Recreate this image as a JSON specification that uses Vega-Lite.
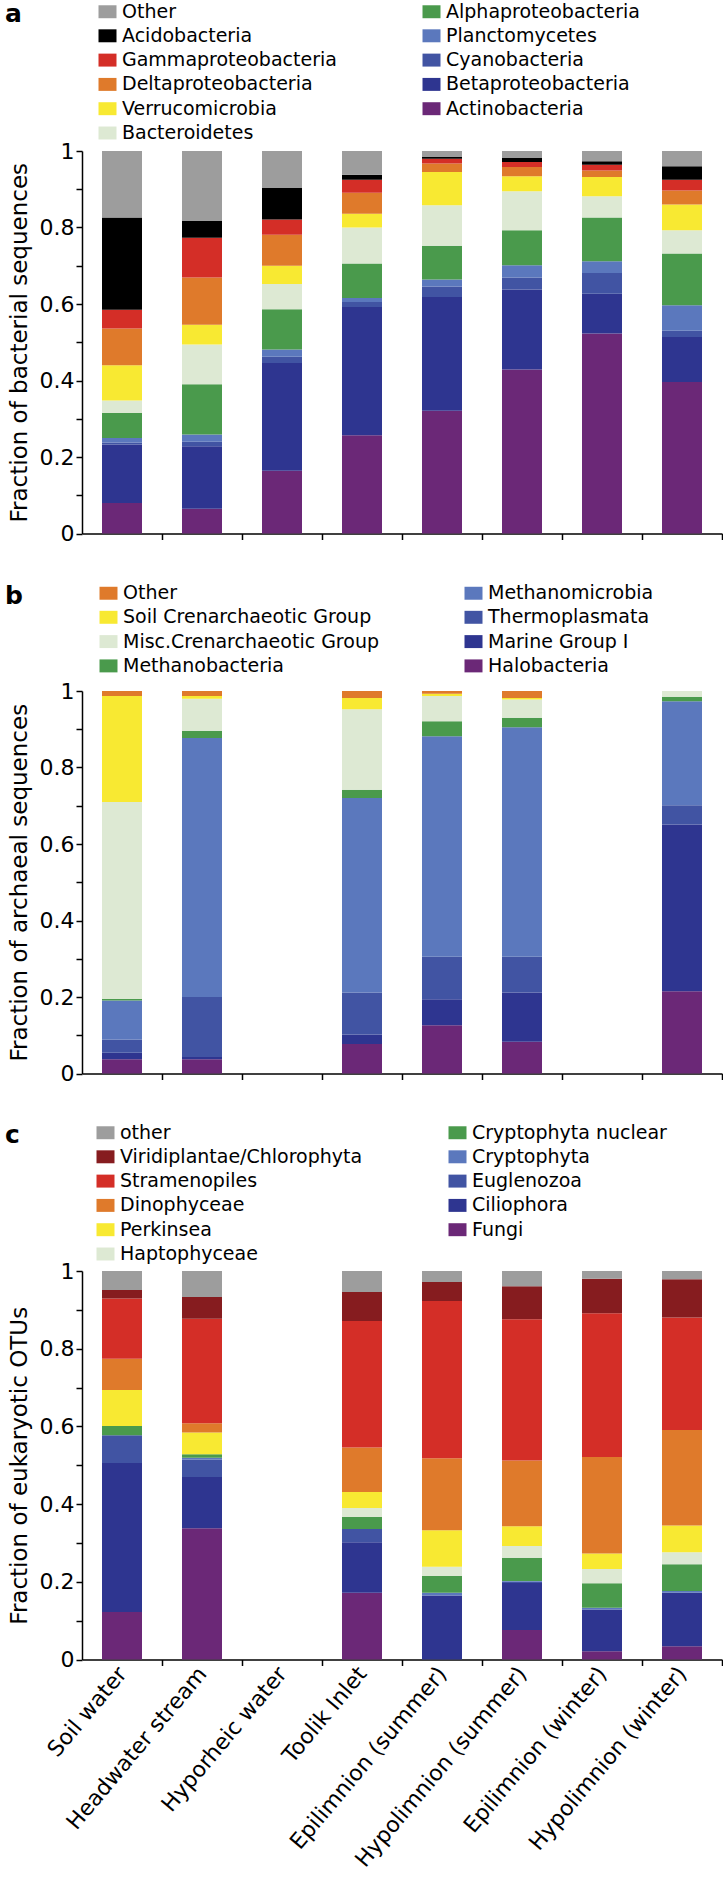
{
  "$schema": "https://vega.github.io/schema/vega-lite/v6.json",
  "padding": {"left": 5, "top": 2, "right": 0, "bottom": 0},
  "background": "white",
  "datasets": {
    "rankA": [
      {"taxon": "Actinobacteria", "rank": 0}, {"taxon": "Betaproteobacteria", "rank": 1}, {"taxon": "Cyanobacteria", "rank": 2},
      {"taxon": "Planctomycetes", "rank": 3}, {"taxon": "Alphaproteobacteria", "rank": 4}, {"taxon": "Bacteroidetes", "rank": 5},
      {"taxon": "Verrucomicrobia", "rank": 6}, {"taxon": "Deltaproteobacteria", "rank": 7}, {"taxon": "Gammaproteobacteria", "rank": 8},
      {"taxon": "Acidobacteria", "rank": 9}, {"taxon": "Other", "rank": 10}
    ],
    "rankB": [
      {"taxon": "Halobacteria", "rank": 0}, {"taxon": "Marine Group I", "rank": 1}, {"taxon": "Thermoplasmata", "rank": 2},
      {"taxon": "Methanomicrobia", "rank": 3}, {"taxon": "Methanobacteria", "rank": 4}, {"taxon": "Misc.Crenarchaeotic Group", "rank": 5},
      {"taxon": "Soil Crenarchaeotic Group", "rank": 6}, {"taxon": "Other", "rank": 7}
    ],
    "rankC": [
      {"taxon": "Fungi", "rank": 0}, {"taxon": "Ciliophora", "rank": 1}, {"taxon": "Euglenozoa", "rank": 2},
      {"taxon": "Cryptophyta", "rank": 3}, {"taxon": "Cryptophyta nuclear", "rank": 4}, {"taxon": "Haptophyceae", "rank": 5},
      {"taxon": "Perkinsea", "rank": 6}, {"taxon": "Dinophyceae", "rank": 7}, {"taxon": "Stramenopiles", "rank": 8},
      {"taxon": "Viridiplantae/Chlorophyta", "rank": 9}, {"taxon": "other", "rank": 10}
    ],
    "bact": [
      {"site": "Soil water", "taxon": "Actinobacteria", "fraction": 0.080},
      {"site": "Soil water", "taxon": "Betaproteobacteria", "fraction": 0.153},
      {"site": "Soil water", "taxon": "Cyanobacteria", "fraction": 0.005},
      {"site": "Soil water", "taxon": "Planctomycetes", "fraction": 0.012},
      {"site": "Soil water", "taxon": "Alphaproteobacteria", "fraction": 0.065},
      {"site": "Soil water", "taxon": "Bacteroidetes", "fraction": 0.033},
      {"site": "Soil water", "taxon": "Verrucomicrobia", "fraction": 0.092},
      {"site": "Soil water", "taxon": "Deltaproteobacteria", "fraction": 0.096},
      {"site": "Soil water", "taxon": "Gammaproteobacteria", "fraction": 0.049},
      {"site": "Soil water", "taxon": "Acidobacteria", "fraction": 0.241},
      {"site": "Soil water", "taxon": "Other", "fraction": 0.174},
      {"site": "Headwater stream", "taxon": "Actinobacteria", "fraction": 0.065},
      {"site": "Headwater stream", "taxon": "Betaproteobacteria", "fraction": 0.163},
      {"site": "Headwater stream", "taxon": "Cyanobacteria", "fraction": 0.012},
      {"site": "Headwater stream", "taxon": "Planctomycetes", "fraction": 0.019},
      {"site": "Headwater stream", "taxon": "Alphaproteobacteria", "fraction": 0.131},
      {"site": "Headwater stream", "taxon": "Bacteroidetes", "fraction": 0.104},
      {"site": "Headwater stream", "taxon": "Verrucomicrobia", "fraction": 0.052},
      {"site": "Headwater stream", "taxon": "Deltaproteobacteria", "fraction": 0.123},
      {"site": "Headwater stream", "taxon": "Gammaproteobacteria", "fraction": 0.104},
      {"site": "Headwater stream", "taxon": "Acidobacteria", "fraction": 0.044},
      {"site": "Headwater stream", "taxon": "Other", "fraction": 0.183},
      {"site": "Hyporheic water", "taxon": "Actinobacteria", "fraction": 0.164},
      {"site": "Hyporheic water", "taxon": "Betaproteobacteria", "fraction": 0.282},
      {"site": "Hyporheic water", "taxon": "Cyanobacteria", "fraction": 0.016},
      {"site": "Hyporheic water", "taxon": "Planctomycetes", "fraction": 0.019},
      {"site": "Hyporheic water", "taxon": "Alphaproteobacteria", "fraction": 0.105},
      {"site": "Hyporheic water", "taxon": "Bacteroidetes", "fraction": 0.066},
      {"site": "Hyporheic water", "taxon": "Verrucomicrobia", "fraction": 0.048},
      {"site": "Hyporheic water", "taxon": "Deltaproteobacteria", "fraction": 0.081},
      {"site": "Hyporheic water", "taxon": "Gammaproteobacteria", "fraction": 0.040},
      {"site": "Hyporheic water", "taxon": "Acidobacteria", "fraction": 0.082},
      {"site": "Hyporheic water", "taxon": "Other", "fraction": 0.097},
      {"site": "Toolik Inlet", "taxon": "Actinobacteria", "fraction": 0.257},
      {"site": "Toolik Inlet", "taxon": "Betaproteobacteria", "fraction": 0.335},
      {"site": "Toolik Inlet", "taxon": "Cyanobacteria", "fraction": 0.013},
      {"site": "Toolik Inlet", "taxon": "Planctomycetes", "fraction": 0.011},
      {"site": "Toolik Inlet", "taxon": "Alphaproteobacteria", "fraction": 0.090},
      {"site": "Toolik Inlet", "taxon": "Bacteroidetes", "fraction": 0.094},
      {"site": "Toolik Inlet", "taxon": "Verrucomicrobia", "fraction": 0.036},
      {"site": "Toolik Inlet", "taxon": "Deltaproteobacteria", "fraction": 0.055},
      {"site": "Toolik Inlet", "taxon": "Gammaproteobacteria", "fraction": 0.034},
      {"site": "Toolik Inlet", "taxon": "Acidobacteria", "fraction": 0.013},
      {"site": "Toolik Inlet", "taxon": "Other", "fraction": 0.062},
      {"site": "Epilimnion (summer)", "taxon": "Actinobacteria", "fraction": 0.321},
      {"site": "Epilimnion (summer)", "taxon": "Betaproteobacteria", "fraction": 0.297},
      {"site": "Epilimnion (summer)", "taxon": "Cyanobacteria", "fraction": 0.028},
      {"site": "Epilimnion (summer)", "taxon": "Planctomycetes", "fraction": 0.018},
      {"site": "Epilimnion (summer)", "taxon": "Alphaproteobacteria", "fraction": 0.088},
      {"site": "Epilimnion (summer)", "taxon": "Bacteroidetes", "fraction": 0.106},
      {"site": "Epilimnion (summer)", "taxon": "Verrucomicrobia", "fraction": 0.087},
      {"site": "Epilimnion (summer)", "taxon": "Deltaproteobacteria", "fraction": 0.022},
      {"site": "Epilimnion (summer)", "taxon": "Gammaproteobacteria", "fraction": 0.013},
      {"site": "Epilimnion (summer)", "taxon": "Acidobacteria", "fraction": 0.004},
      {"site": "Epilimnion (summer)", "taxon": "Other", "fraction": 0.016},
      {"site": "Hypolimnion (summer)", "taxon": "Actinobacteria", "fraction": 0.429},
      {"site": "Hypolimnion (summer)", "taxon": "Betaproteobacteria", "fraction": 0.209},
      {"site": "Hypolimnion (summer)", "taxon": "Cyanobacteria", "fraction": 0.031},
      {"site": "Hypolimnion (summer)", "taxon": "Planctomycetes", "fraction": 0.032},
      {"site": "Hypolimnion (summer)", "taxon": "Alphaproteobacteria", "fraction": 0.092},
      {"site": "Hypolimnion (summer)", "taxon": "Bacteroidetes", "fraction": 0.102},
      {"site": "Hypolimnion (summer)", "taxon": "Verrucomicrobia", "fraction": 0.039},
      {"site": "Hypolimnion (summer)", "taxon": "Deltaproteobacteria", "fraction": 0.024},
      {"site": "Hypolimnion (summer)", "taxon": "Gammaproteobacteria", "fraction": 0.013},
      {"site": "Hypolimnion (summer)", "taxon": "Acidobacteria", "fraction": 0.011},
      {"site": "Hypolimnion (summer)", "taxon": "Other", "fraction": 0.018},
      {"site": "Epilimnion (winter)", "taxon": "Actinobacteria", "fraction": 0.523},
      {"site": "Epilimnion (winter)", "taxon": "Betaproteobacteria", "fraction": 0.104},
      {"site": "Epilimnion (winter)", "taxon": "Cyanobacteria", "fraction": 0.054},
      {"site": "Epilimnion (winter)", "taxon": "Planctomycetes", "fraction": 0.031},
      {"site": "Epilimnion (winter)", "taxon": "Alphaproteobacteria", "fraction": 0.114},
      {"site": "Epilimnion (winter)", "taxon": "Bacteroidetes", "fraction": 0.056},
      {"site": "Epilimnion (winter)", "taxon": "Verrucomicrobia", "fraction": 0.050},
      {"site": "Epilimnion (winter)", "taxon": "Deltaproteobacteria", "fraction": 0.017},
      {"site": "Epilimnion (winter)", "taxon": "Gammaproteobacteria", "fraction": 0.015},
      {"site": "Epilimnion (winter)", "taxon": "Acidobacteria", "fraction": 0.009},
      {"site": "Epilimnion (winter)", "taxon": "Other", "fraction": 0.027},
      {"site": "Hypolimnion (winter)", "taxon": "Actinobacteria", "fraction": 0.396},
      {"site": "Hypolimnion (winter)", "taxon": "Betaproteobacteria", "fraction": 0.118},
      {"site": "Hypolimnion (winter)", "taxon": "Cyanobacteria", "fraction": 0.016},
      {"site": "Hypolimnion (winter)", "taxon": "Planctomycetes", "fraction": 0.067},
      {"site": "Hypolimnion (winter)", "taxon": "Alphaproteobacteria", "fraction": 0.135},
      {"site": "Hypolimnion (winter)", "taxon": "Bacteroidetes", "fraction": 0.061},
      {"site": "Hypolimnion (winter)", "taxon": "Verrucomicrobia", "fraction": 0.067},
      {"site": "Hypolimnion (winter)", "taxon": "Deltaproteobacteria", "fraction": 0.037},
      {"site": "Hypolimnion (winter)", "taxon": "Gammaproteobacteria", "fraction": 0.028},
      {"site": "Hypolimnion (winter)", "taxon": "Acidobacteria", "fraction": 0.035},
      {"site": "Hypolimnion (winter)", "taxon": "Other", "fraction": 0.040}
    ],
    "arch": [
      {"site": "Soil water", "taxon": "Halobacteria", "fraction": 0.037},
      {"site": "Soil water", "taxon": "Marine Group I", "fraction": 0.017},
      {"site": "Soil water", "taxon": "Thermoplasmata", "fraction": 0.035},
      {"site": "Soil water", "taxon": "Methanomicrobia", "fraction": 0.102},
      {"site": "Soil water", "taxon": "Methanobacteria", "fraction": 0.004},
      {"site": "Soil water", "taxon": "Misc.Crenarchaeotic Group", "fraction": 0.515},
      {"site": "Soil water", "taxon": "Soil Crenarchaeotic Group", "fraction": 0.277},
      {"site": "Soil water", "taxon": "Other", "fraction": 0.013},
      {"site": "Headwater stream", "taxon": "Halobacteria", "fraction": 0.037},
      {"site": "Headwater stream", "taxon": "Marine Group I", "fraction": 0.006},
      {"site": "Headwater stream", "taxon": "Thermoplasmata", "fraction": 0.157},
      {"site": "Headwater stream", "taxon": "Methanomicrobia", "fraction": 0.677},
      {"site": "Headwater stream", "taxon": "Methanobacteria", "fraction": 0.019},
      {"site": "Headwater stream", "taxon": "Misc.Crenarchaeotic Group", "fraction": 0.084},
      {"site": "Headwater stream", "taxon": "Soil Crenarchaeotic Group", "fraction": 0.007},
      {"site": "Headwater stream", "taxon": "Other", "fraction": 0.013},
      {"site": "Toolik Inlet", "taxon": "Halobacteria", "fraction": 0.077},
      {"site": "Toolik Inlet", "taxon": "Marine Group I", "fraction": 0.025},
      {"site": "Toolik Inlet", "taxon": "Thermoplasmata", "fraction": 0.110},
      {"site": "Toolik Inlet", "taxon": "Methanomicrobia", "fraction": 0.508},
      {"site": "Toolik Inlet", "taxon": "Methanobacteria", "fraction": 0.022},
      {"site": "Toolik Inlet", "taxon": "Misc.Crenarchaeotic Group", "fraction": 0.210},
      {"site": "Toolik Inlet", "taxon": "Soil Crenarchaeotic Group", "fraction": 0.030},
      {"site": "Toolik Inlet", "taxon": "Other", "fraction": 0.018},
      {"site": "Epilimnion (summer)", "taxon": "Halobacteria", "fraction": 0.126},
      {"site": "Epilimnion (summer)", "taxon": "Marine Group I", "fraction": 0.068},
      {"site": "Epilimnion (summer)", "taxon": "Thermoplasmata", "fraction": 0.111},
      {"site": "Epilimnion (summer)", "taxon": "Methanomicrobia", "fraction": 0.577},
      {"site": "Epilimnion (summer)", "taxon": "Methanobacteria", "fraction": 0.039},
      {"site": "Epilimnion (summer)", "taxon": "Misc.Crenarchaeotic Group", "fraction": 0.066},
      {"site": "Epilimnion (summer)", "taxon": "Soil Crenarchaeotic Group", "fraction": 0.006},
      {"site": "Epilimnion (summer)", "taxon": "Other", "fraction": 0.007},
      {"site": "Hypolimnion (summer)", "taxon": "Halobacteria", "fraction": 0.083},
      {"site": "Hypolimnion (summer)", "taxon": "Marine Group I", "fraction": 0.129},
      {"site": "Hypolimnion (summer)", "taxon": "Thermoplasmata", "fraction": 0.093},
      {"site": "Hypolimnion (summer)", "taxon": "Methanomicrobia", "fraction": 0.600},
      {"site": "Hypolimnion (summer)", "taxon": "Methanobacteria", "fraction": 0.025},
      {"site": "Hypolimnion (summer)", "taxon": "Misc.Crenarchaeotic Group", "fraction": 0.048},
      {"site": "Hypolimnion (summer)", "taxon": "Soil Crenarchaeotic Group", "fraction": 0.004},
      {"site": "Hypolimnion (summer)", "taxon": "Other", "fraction": 0.018},
      {"site": "Hypolimnion (winter)", "taxon": "Halobacteria", "fraction": 0.215},
      {"site": "Hypolimnion (winter)", "taxon": "Marine Group I", "fraction": 0.436},
      {"site": "Hypolimnion (winter)", "taxon": "Thermoplasmata", "fraction": 0.050},
      {"site": "Hypolimnion (winter)", "taxon": "Methanomicrobia", "fraction": 0.272},
      {"site": "Hypolimnion (winter)", "taxon": "Methanobacteria", "fraction": 0.012},
      {"site": "Hypolimnion (winter)", "taxon": "Misc.Crenarchaeotic Group", "fraction": 0.015}
    ],
    "euk": [
      {"site": "Soil water", "taxon": "Fungi", "fraction": 0.122},
      {"site": "Soil water", "taxon": "Ciliophora", "fraction": 0.384},
      {"site": "Soil water", "taxon": "Euglenozoa", "fraction": 0.071},
      {"site": "Soil water", "taxon": "Cryptophyta nuclear", "fraction": 0.024},
      {"site": "Soil water", "taxon": "Perkinsea", "fraction": 0.093},
      {"site": "Soil water", "taxon": "Dinophyceae", "fraction": 0.080},
      {"site": "Soil water", "taxon": "Stramenopiles", "fraction": 0.155},
      {"site": "Soil water", "taxon": "Viridiplantae/Chlorophyta", "fraction": 0.022},
      {"site": "Soil water", "taxon": "other", "fraction": 0.049},
      {"site": "Headwater stream", "taxon": "Fungi", "fraction": 0.338},
      {"site": "Headwater stream", "taxon": "Ciliophora", "fraction": 0.132},
      {"site": "Headwater stream", "taxon": "Euglenozoa", "fraction": 0.045},
      {"site": "Headwater stream", "taxon": "Cryptophyta", "fraction": 0.004},
      {"site": "Headwater stream", "taxon": "Cryptophyta nuclear", "fraction": 0.009},
      {"site": "Headwater stream", "taxon": "Perkinsea", "fraction": 0.056},
      {"site": "Headwater stream", "taxon": "Dinophyceae", "fraction": 0.024},
      {"site": "Headwater stream", "taxon": "Stramenopiles", "fraction": 0.269},
      {"site": "Headwater stream", "taxon": "Viridiplantae/Chlorophyta", "fraction": 0.056},
      {"site": "Headwater stream", "taxon": "other", "fraction": 0.067},
      {"site": "Toolik Inlet", "taxon": "Fungi", "fraction": 0.172},
      {"site": "Toolik Inlet", "taxon": "Ciliophora", "fraction": 0.130},
      {"site": "Toolik Inlet", "taxon": "Euglenozoa", "fraction": 0.034},
      {"site": "Toolik Inlet", "taxon": "Cryptophyta nuclear", "fraction": 0.031},
      {"site": "Toolik Inlet", "taxon": "Haptophyceae", "fraction": 0.023},
      {"site": "Toolik Inlet", "taxon": "Perkinsea", "fraction": 0.041},
      {"site": "Toolik Inlet", "taxon": "Dinophyceae", "fraction": 0.115},
      {"site": "Toolik Inlet", "taxon": "Stramenopiles", "fraction": 0.325},
      {"site": "Toolik Inlet", "taxon": "Viridiplantae/Chlorophyta", "fraction": 0.075},
      {"site": "Toolik Inlet", "taxon": "other", "fraction": 0.054},
      {"site": "Epilimnion (summer)", "taxon": "Ciliophora", "fraction": 0.165},
      {"site": "Epilimnion (summer)", "taxon": "Cryptophyta", "fraction": 0.007},
      {"site": "Epilimnion (summer)", "taxon": "Cryptophyta nuclear", "fraction": 0.043},
      {"site": "Epilimnion (summer)", "taxon": "Haptophyceae", "fraction": 0.024},
      {"site": "Epilimnion (summer)", "taxon": "Perkinsea", "fraction": 0.094},
      {"site": "Epilimnion (summer)", "taxon": "Dinophyceae", "fraction": 0.185},
      {"site": "Epilimnion (summer)", "taxon": "Stramenopiles", "fraction": 0.405},
      {"site": "Epilimnion (summer)", "taxon": "Viridiplantae/Chlorophyta", "fraction": 0.049},
      {"site": "Epilimnion (summer)", "taxon": "other", "fraction": 0.028},
      {"site": "Hypolimnion (summer)", "taxon": "Fungi", "fraction": 0.076},
      {"site": "Hypolimnion (summer)", "taxon": "Ciliophora", "fraction": 0.121},
      {"site": "Hypolimnion (summer)", "taxon": "Euglenozoa", "fraction": 0.003},
      {"site": "Hypolimnion (summer)", "taxon": "Cryptophyta", "fraction": 0.002},
      {"site": "Hypolimnion (summer)", "taxon": "Cryptophyta nuclear", "fraction": 0.060},
      {"site": "Hypolimnion (summer)", "taxon": "Haptophyceae", "fraction": 0.030},
      {"site": "Hypolimnion (summer)", "taxon": "Perkinsea", "fraction": 0.051},
      {"site": "Hypolimnion (summer)", "taxon": "Dinophyceae", "fraction": 0.169},
      {"site": "Hypolimnion (summer)", "taxon": "Stramenopiles", "fraction": 0.364},
      {"site": "Hypolimnion (summer)", "taxon": "Viridiplantae/Chlorophyta", "fraction": 0.085},
      {"site": "Hypolimnion (summer)", "taxon": "other", "fraction": 0.039},
      {"site": "Epilimnion (winter)", "taxon": "Fungi", "fraction": 0.021},
      {"site": "Epilimnion (winter)", "taxon": "Ciliophora", "fraction": 0.108},
      {"site": "Epilimnion (winter)", "taxon": "Cryptophyta", "fraction": 0.004},
      {"site": "Epilimnion (winter)", "taxon": "Cryptophyta nuclear", "fraction": 0.063},
      {"site": "Epilimnion (winter)", "taxon": "Haptophyceae", "fraction": 0.037},
      {"site": "Epilimnion (winter)", "taxon": "Perkinsea", "fraction": 0.040},
      {"site": "Epilimnion (winter)", "taxon": "Dinophyceae", "fraction": 0.248},
      {"site": "Epilimnion (winter)", "taxon": "Stramenopiles", "fraction": 0.370},
      {"site": "Epilimnion (winter)", "taxon": "Viridiplantae/Chlorophyta", "fraction": 0.089},
      {"site": "Epilimnion (winter)", "taxon": "other", "fraction": 0.020},
      {"site": "Hypolimnion (winter)", "taxon": "Fungi", "fraction": 0.034},
      {"site": "Hypolimnion (winter)", "taxon": "Ciliophora", "fraction": 0.138},
      {"site": "Hypolimnion (winter)", "taxon": "Cryptophyta", "fraction": 0.004},
      {"site": "Hypolimnion (winter)", "taxon": "Cryptophyta nuclear", "fraction": 0.069},
      {"site": "Hypolimnion (winter)", "taxon": "Haptophyceae", "fraction": 0.031},
      {"site": "Hypolimnion (winter)", "taxon": "Perkinsea", "fraction": 0.069},
      {"site": "Hypolimnion (winter)", "taxon": "Dinophyceae", "fraction": 0.246},
      {"site": "Hypolimnion (winter)", "taxon": "Stramenopiles", "fraction": 0.289},
      {"site": "Hypolimnion (winter)", "taxon": "Viridiplantae/Chlorophyta", "fraction": 0.099},
      {"site": "Hypolimnion (winter)", "taxon": "other", "fraction": 0.021}
    ]
  },
  "vconcat": [
    {
      "width": 640,
      "height": 382.5,
      "data": {"name": "bact"},
      "transform": [{"lookup": "taxon", "from": {"data": {"name": "rankA"}, "key": "taxon", "fields": ["rank"]}}],
      "mark": {"type": "bar"},
      "encoding": {
        "x": {"field": "site", "type": "nominal",
              "scale": {"domain": ["Soil water", "Headwater stream", "Hyporheic water", "Toolik Inlet", "Epilimnion (summer)", "Hypolimnion (summer)", "Epilimnion (winter)", "Hypolimnion (winter)"], "paddingInner": 0.5, "paddingOuter": 0.25},
              "axis": {"title": null, "labels": false, "tickOffset": 40}},
        "y": {"field": "fraction", "type": "quantitative", "stack": "zero",
              "scale": {"domain": [0, 1], "nice": false},
              "axis": {"title": "Fraction of bacterial sequences"}},
        "color": {"field": "taxon", "type": "nominal",
                  "scale": {"domain": ["Other", "Acidobacteria", "Gammaproteobacteria", "Deltaproteobacteria", "Verrucomicrobia", "Bacteroidetes", "Alphaproteobacteria", "Planctomycetes", "Cyanobacteria", "Betaproteobacteria", "Actinobacteria"],
                            "range": ["#9d9d9d", "#000000", "#d42e27", "#df7a2b", "#f8e932", "#dde9d3", "#4a9a4c", "#5b78bd", "#4154a3", "#2e3590", "#6b2877"]},
                  "legend": {"title": "a", "legendX": -77, "legendY": -149}},
        "order": {"field": "rank", "type": "quantitative", "sort": "ascending"}
      }
    },
    {
      "width": 640,
      "height": 382.5,
      "data": {"name": "arch"},
      "transform": [{"lookup": "taxon", "from": {"data": {"name": "rankB"}, "key": "taxon", "fields": ["rank"]}}],
      "mark": {"type": "bar"},
      "encoding": {
        "x": {"field": "site", "type": "nominal",
              "scale": {"domain": ["Soil water", "Headwater stream", "Hyporheic water", "Toolik Inlet", "Epilimnion (summer)", "Hypolimnion (summer)", "Epilimnion (winter)", "Hypolimnion (winter)"], "paddingInner": 0.5, "paddingOuter": 0.25},
              "axis": {"title": null, "labels": false, "tickOffset": 40}},
        "y": {"field": "fraction", "type": "quantitative", "stack": "zero",
              "scale": {"domain": [0, 1], "nice": false},
              "axis": {"title": "Fraction of archaeal sequences"}},
        "color": {"field": "taxon", "type": "nominal",
                  "scale": {"domain": ["Other", "Soil Crenarchaeotic Group", "Misc.Crenarchaeotic Group", "Methanobacteria", "Methanomicrobia", "Thermoplasmata", "Marine Group I", "Halobacteria"],
                            "range": ["#df7a2b", "#f8e932", "#dde9d3", "#4a9a4c", "#5b78bd", "#4154a3", "#2e3590", "#6b2877"]},
                  "legend": {"title": "b", "legendX": -77, "legendY": -107.5}},
        "order": {"field": "rank", "type": "quantitative", "sort": "ascending"}
      }
    },
    {
      "width": 640,
      "height": 388.5,
      "data": {"name": "euk"},
      "transform": [{"lookup": "taxon", "from": {"data": {"name": "rankC"}, "key": "taxon", "fields": ["rank"]}}],
      "mark": {"type": "bar"},
      "encoding": {
        "x": {"field": "site", "type": "nominal",
              "scale": {"domain": ["Soil water", "Headwater stream", "Hyporheic water", "Toolik Inlet", "Epilimnion (summer)", "Hypolimnion (summer)", "Epilimnion (winter)", "Hypolimnion (winter)"], "paddingInner": 0.5, "paddingOuter": 0.25},
              "axis": {"title": null, "labels": true, "tickOffset": 40, "labelOffset": -40, "labelAngle": -50, "labelAlign": "right", "labelBaseline": "middle", "labelFontSize": 22, "labelFont": "DejaVu Sans", "labelColor": "#000000", "labelPadding": 4, "labelLimit": 400}},
        "y": {"field": "fraction", "type": "quantitative", "stack": "zero",
              "scale": {"domain": [0, 1], "nice": false},
              "axis": {"title": "Fraction of eukaryotic OTUs"}},
        "color": {"field": "taxon", "type": "nominal",
                  "scale": {"domain": ["other", "Viridiplantae/Chlorophyta", "Stramenopiles", "Dinophyceae", "Perkinsea", "Haptophyceae", "Cryptophyta nuclear", "Cryptophyta", "Euglenozoa", "Ciliophora", "Fungi"],
                            "range": ["#9d9d9d", "#861c1f", "#d42e27", "#df7a2b", "#f8e932", "#dde9d3", "#4a9a4c", "#5b78bd", "#4154a3", "#2e3590", "#6b2877"]},
                  "legend": {"title": "c", "legendX": -77, "legendY": -148}},
        "order": {"field": "rank", "type": "quantitative", "sort": "ascending"}
      }
    }
  ],
  "spacing": 38,
  "resolve": {"scale": {"color": "independent"}, "legend": {"color": "independent"}},
  "config": {
    "view": {"stroke": null},
    "bar": {"stroke": null},
    "axisX": {"domainColor": "#000000", "domainWidth": 1.5, "tickColor": "#000000", "tickWidth": 1.5, "tickSize": 6, "grid": false},
    "axisY": {
      "values": [0, 0.1, 0.2, 0.3, 0.4, 0.5, 0.6, 0.7, 0.8, 0.9, 1],
      "labelExpr": "indexof([0, 0.2, 0.4, 0.6, 0.8, 1], datum.value) >= 0 ? format(datum.value, '~g') : ''",
      "grid": false, "domainColor": "#000000", "domainWidth": 1.5, "tickColor": "#000000", "tickWidth": 1.5, "tickSize": 6,
      "labelFont": "DejaVu Sans", "labelFontSize": 22, "labelColor": "#000000", "labelPadding": 2,
      "titleFont": "DejaVu Sans", "titleFontSize": 23, "titleFontWeight": "normal", "titleColor": "#000000", "titlePadding": 8
    },
    "legend": {
      "orient": "none", "columns": 2, "columnPadding": 85, "rowPadding": 4.3,
      "titleOrient": "left", "titleAnchor": "start", "titleBaseline": "top",
      "titleFont": "DejaVu Sans", "titleFontSize": 25, "titleFontWeight": "bold", "titleColor": "#000000", "titlePadding": 76,
      "labelFont": "DejaVu Sans", "labelFontSize": 19, "labelColor": "#000000", "labelOffset": 5, "labelLimit": 400,
      "symbolType": "M-1,-0.72H1V0.72H-1Z", "symbolSize": 324, "symbolStrokeWidth": 0
    }
  }
}
